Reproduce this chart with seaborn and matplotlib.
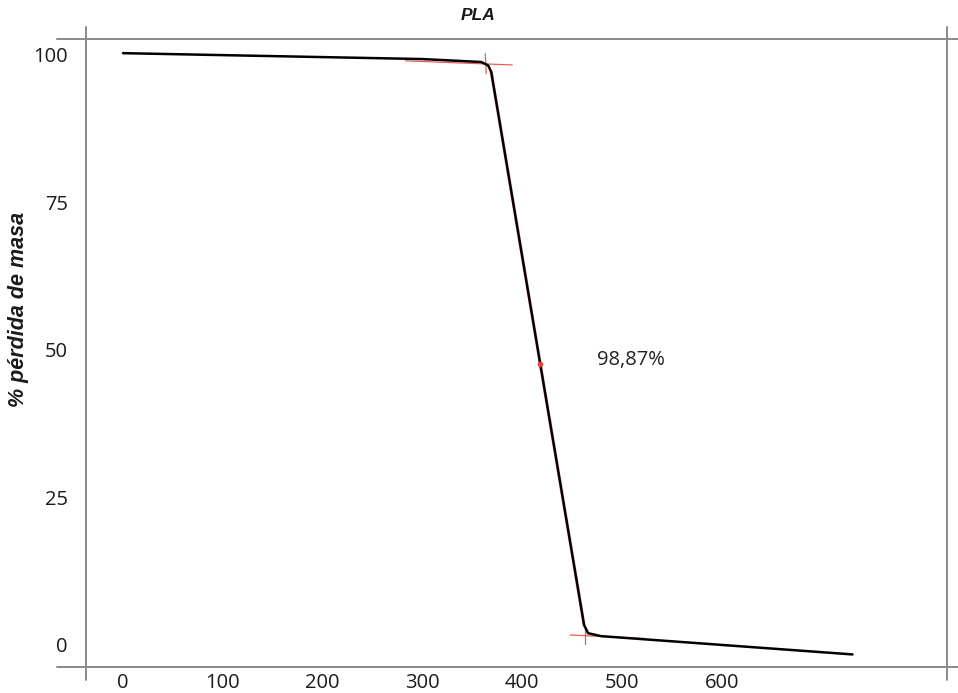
import matplotlib
matplotlib.use("Agg")
import matplotlib.pyplot as plt
import numpy as np
import pandas as pd
import seaborn as sns

# Thermogravimetric curve of PLA: temperature vs remaining mass (%)
temperature = [0, 300, 359, 366, 369, 462, 466, 479, 731]
mass_pct = [100.3, 99.3, 98.8, 98.2, 97.1, 3.4, 2.0, 1.5, -1.6]

# Onset / endset construction points and the step between them
onset_temp, onset_mass = 363, 98.5
endset_temp, endset_mass = 463, 1.5
mid_temp, mid_mass = 418, 47.7
loss_label = "98,87%"

x_ticks = [0, 100, 200, 300, 400, 500, 600]
y_ticks = [0, 25, 50, 75, 100]

sns.set_theme(style="white")
plt.rcParams["font.family"] = ["Open Sans", "DejaVu Sans"]

fig = plt.figure(figsize=(9.58, 6.93), dpi=100)
W, H = 958, 693
left, right, top, bottom = 86, 947, 39, 667
ax = fig.add_axes([left / W, 1 - bottom / H, (right - left) / W, (bottom - top) / H])

df = pd.DataFrame({"T": temperature, "m": mass_pct})

# tangent construction (red) underneath the measured curve
red = "#e8403a"
thin = dict(color=red, lw=0.9, alpha=0.85)
ax.plot([283, 390], [99.0, 98.3], **thin)
ax.plot([onset_temp, onset_temp + 1], [onset_mass + 1.7, onset_mass - 1.7], **thin)
ax.plot([endset_temp - 15, endset_temp + 60], [endset_mass + 0.2, endset_mass - 0.4], **thin)
ax.plot([endset_temp, endset_temp], [endset_mass + 1.4, endset_mass - 1.4], **thin)
ax.plot([369, 462], [97.1, 3.4], color=red, lw=2.4, alpha=0.35)

sns.lineplot(data=df, x="T", y="m", ax=ax, color="black", lw=1.8, sort=False)
ax.plot([mid_temp], [mid_mass], marker="o", ms=3, color=red, zorder=5)

ax.text(475, 48.3, loss_label, fontsize=14.5, color="#222222", va="center", ha="left")

ax.set_xlim(-37.1, 825.7)
ax.set_ylim(-3.73, 102.7)
ax.set_xticks(x_ticks)
ax.set_yticks(y_ticks)
ax.tick_params(axis="both", length=0, labelsize=14.5, colors="#1a1a1a")
ax.tick_params(axis="x", pad=4)
ax.tick_params(axis="y", pad=13)
ax.set_xlabel("")
ax.set_ylabel("% pérdida de masa", fontsize=15.5, fontweight="bold", fontstyle="italic",
              family=["Liberation Sans", "DejaVu Sans"], color="#1a1a1a")
ax.yaxis.set_label_coords(-0.066, 0.57)

for s in ax.spines.values():
    s.set_visible(False)

# frame lines crossing past the corners
frame = dict(color="#8a8a8a", lw=1.4, transform=ax.transAxes, clip_on=False)
ax.plot([0, 0], [-0.021, 1.019], **frame)
ax.plot([1, 1], [-0.021, 1.019], **frame)
ax.plot([-0.034, 1.013], [1, 1], **frame)
ax.plot([-0.034, 1.013], [0, 0], **frame)

fig.text(478 / W, 1 - 15 / H, "PLA", ha="center", va="center", fontsize=12.5,
         fontweight="bold", fontstyle="italic", family=["Liberation Sans", "DejaVu Sans"],
         color="#1a1a1a")

fig.savefig("out.png", dpi=100)
